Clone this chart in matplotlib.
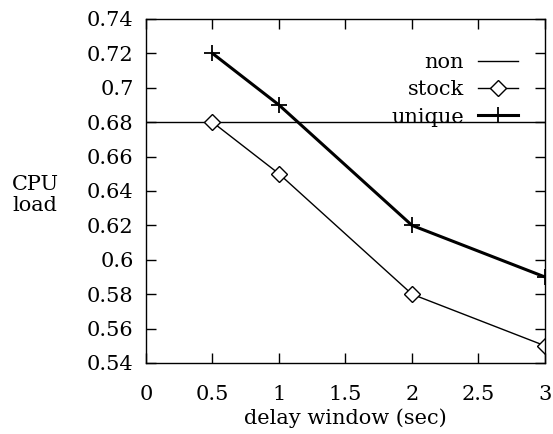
# CPU load vs delay window

import matplotlib
matplotlib.use('Agg')
import matplotlib.pyplot as plt

# Data
delay = [0.5, 1, 2, 3]
stock = [0.68, 0.65, 0.58, 0.55]
unique = [0.72, 0.69, 0.62, 0.59]
non_level = 0.68

x_ticks = [0, 0.5, 1, 1.5, 2, 2.5, 3]
x_labels = ['0', '0.5', '1', '1.5', '2', '2.5', '3']
y_ticks = [0.54, 0.56, 0.58, 0.6, 0.62, 0.64, 0.66, 0.68, 0.7, 0.72, 0.74]
y_labels = ['0.54', '0.56', '0.58', '0.6', '0.62', '0.64', '0.66', '0.68', '0.7', '0.72', '0.74']

plt.rcParams['font.family'] = ['DejaVu Serif']

fig = plt.figure(figsize=(5.53, 4.34), dpi=100)
ax = fig.add_axes([146 / 553, 1 - 363 / 434, (545 - 146) / 553, (363 - 19) / 434])

ax.axhline(non_level, color='black', lw=1.0, label='non')
ax.plot(delay, stock, color='black', lw=1.0, marker='D', markersize=8,
        markerfacecolor='white', markeredgewidth=1.0, label='stock')
ax.plot(delay, unique, color='black', lw=2.2, marker='+', markersize=11,
        markeredgewidth=1.3, label='unique')

ax.set_xlim(0, 3)
ax.set_ylim(0.54, 0.74)
ax.set_xticks(x_ticks)
ax.set_xticklabels(x_labels)
ax.set_yticks(y_ticks)
ax.set_yticklabels(y_labels)
ax.tick_params(direction='in', length=7, width=1, labelsize=15,
               top=True, right=True)
ax.tick_params(axis='y', pad=9)
ax.tick_params(axis='x', pad=16)
for s in ax.spines.values():
    s.set_linewidth(1.0)

ax.set_xlabel('delay window (sec)', fontsize=15, labelpad=3)
fig.text(35 / 553, 1 - 195 / 434, 'CPU\nload', fontsize=15, ha='center', va='center',
         multialignment='center', linespacing=1.15)

leg = ax.legend(loc='upper right', bbox_to_anchor=((518 - 146) / 399, (363 - 53) / 344),
                frameon=False, fontsize=15, markerfirst=False, handlelength=1.9,
                handletextpad=0.7, labelspacing=0.4, borderpad=0, borderaxespad=0)
for t in leg.get_texts():
    t.set_ha('right')

fig.savefig('out.png', dpi=100)
